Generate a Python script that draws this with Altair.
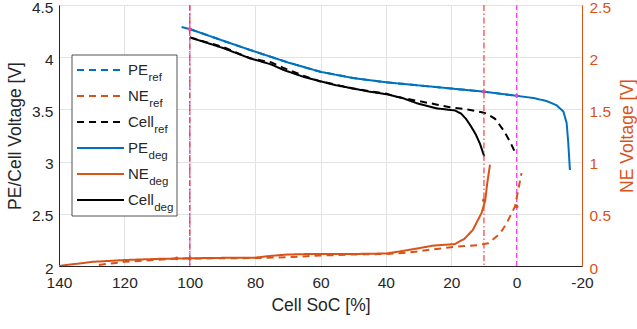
import altair as alt
import pandas as pd

# ---------------- data ----------------
pe_soc = [102.5, 100, 90, 81.6, 70, 60, 50, 40, 30, 20, 10, 5, 0, -5, -9.2, -12.2, -14.3, -15.3, -15.8, -16.3]
pe_deg = [4.29, 4.27, 4.16, 4.07, 3.95, 3.86, 3.80, 3.76, 3.73, 3.70, 3.67, 3.65, 3.63, 3.61, 3.58, 3.54, 3.48, 3.37, 3.18, 2.92]

pe_ref_soc = [100, 90, 81.6, 70, 60, 50, 40, 30, 20, 10, 5, 0]
pe_ref = [4.27, 4.16, 4.07, 3.95, 3.86, 3.80, 3.76, 3.73, 3.70, 3.67, 3.65, 3.63]

cell_deg_soc = [100, 90, 81.6, 75, 71.5, 65, 60.2, 55, 50, 45, 39.8, 35, 30.6, 24.5, 18.9, 17, 15.5, 14, 12.5, 11.2, 9.9]
cell_deg = [4.19, 4.09, 3.99, 3.93, 3.88, 3.81, 3.77, 3.73, 3.70, 3.67, 3.645, 3.61, 3.56, 3.51, 3.49, 3.46, 3.41, 3.34, 3.26, 3.17, 3.05]

cell_ref_soc = [100, 90, 81.6, 75, 71.5, 65, 60.2, 50, 39.8, 36.7, 30, 25, 20.4, 15, 10.3, 9.2, 6.6, 4.0, 2.0, 0.5]
cell_ref = [4.19, 4.10, 3.99, 3.95, 3.90, 3.82, 3.77, 3.70, 3.65, 3.62, 3.58, 3.55, 3.52, 3.50, 3.47, 3.46, 3.41, 3.30, 3.19, 3.09]

ne_deg_soc = [140, 137.6, 129.6, 120, 110, 100, 90, 80, 75.5, 70, 63.2, 50, 39.8, 35.7, 30, 25.6, 18.9, 16, 13.4, 10.7, 9.6, 9, 8.15]
ne_deg = [0.0, 0.01, 0.04, 0.057, 0.068, 0.074, 0.078, 0.08, 0.096, 0.11, 0.115, 0.115, 0.12, 0.14, 0.17, 0.195, 0.21, 0.26, 0.345, 0.51, 0.63, 0.79, 0.97]

ne_ref_soc = [127.8, 120, 110, 104, 100, 90, 80, 70, 60, 50, 40, 36.7, 30, 25.6, 18.3, 12, 8.7, 5.1, 3.05, 0.5, -1.5]
ne_ref = [0.01, 0.04, 0.06, 0.07, 0.072, 0.074, 0.076, 0.085, 0.10, 0.11, 0.115, 0.12, 0.14, 0.16, 0.185, 0.20, 0.217, 0.31, 0.41, 0.57, 0.89]

left_dot_soc = [100, 10, 0]
left_dot_v = [4.27, 3.67, 3.63]
right_dot_soc = [104, 100, 10, 0]
right_dot_v = [0.072, 0.074, 0.63, 0.57]

red_lines = [100, 10]
magenta_lines = [100, 0]

x_ticks = [140, 120, 100, 80, 60, 40, 20, 0, -20]
left_ticks = [2, 2.5, 3, 3.5, 4, 4.5]
right_ticks = [0, 0.5, 1, 1.5, 2, 2.5]

legend_main = ["PE", "NE", "Cell", "PE", "NE", "Cell"]
legend_sub = ["ref", "ref", "ref", "deg", "deg", "deg"]

# ---------------- style ----------------
FONT = "Liberation Sans"
AX = "#262626"
GRID = "#e3e3e3"
BLUE = "#0072BD"
ORANGE = "#D95319"
BLACK = "#000000"
RED = "#FF3B3B"
MAGENTA = "#FF40FF"
DASH = [7, 5]
DASHDOT = [6, 2.5, 1.5, 2.5]
W, H = 523, 261
LBL = 15.5
TTL = 17.5

x_enc = alt.X(
    "soc:Q",
    scale=alt.Scale(domain=[-20, 140], reverse=True, nice=False, zero=False),
    axis=alt.Axis(values=x_ticks, labelExpr="'' + datum.value", title="Cell SoC [%]",
                  grid=True, gridColor=GRID, ticks=False, tickSize=0, domainColor=AX,
                  labelColor=AX, titleColor=AX, labelFontSize=LBL, titleFontSize=TTL,
                  labelPadding=9, titlePadding=6, labelFont=FONT, titleFont=FONT,
                  titleFontWeight="normal", labelFlush=False),
)

y_left = alt.Y(
    "v:Q",
    scale=alt.Scale(domain=[2, 4.5], nice=False, zero=False),
    axis=alt.Axis(orient="left", values=left_ticks, format="~g", title="PE/Cell Voltage [V]",
                  grid=True, gridColor=GRID, ticks=False, tickSize=0, domainColor=AX,
                  labelColor=AX, titleColor=AX, labelFontSize=LBL, titleFontSize=TTL,
                  labelPadding=6, titlePadding=7, labelFont=FONT, titleFont=FONT,
                  titleFontWeight="normal", labelFlush=False, labelOffset=2),
)

y_right = alt.Y(
    "v:Q",
    scale=alt.Scale(domain=[0, 2.5], nice=False, zero=False),
    axis=alt.Axis(orient="right", values=right_ticks, format="~g", title="NE Voltage [V]",
                  grid=False, ticks=False, tickSize=0, domainColor=ORANGE,
                  labelColor=ORANGE, titleColor=ORANGE, labelFontSize=LBL, titleFontSize=TTL,
                  labelPadding=7, titlePadding=8, labelFont=FONT, titleFont=FONT,
                  titleFontWeight="normal", titleAngle=270, titleBaseline="top",
                  labelFlush=False, labelOffset=2),
)


def series(xs, ys):
    return pd.DataFrame({"soc": xs, "v": ys, "i": list(range(len(xs)))})


def line(xs, ys, color, dash, y_enc):
    return alt.Chart(series(xs, ys)).mark_line(
        color=color, strokeWidth=2, strokeDash=dash, clip=True
    ).encode(x=x_enc, y=y_enc, order="i:Q")


left_layers = [
    line(pe_ref_soc, pe_ref, BLUE, DASH, y_left),
    line(cell_ref_soc, cell_ref, BLACK, DASH, y_left),
    line(pe_soc, pe_deg, BLUE, [1, 0], y_left),
    line(cell_deg_soc, cell_deg, BLACK, [1, 0], y_left),
    alt.Chart(series(left_dot_soc, left_dot_v)).mark_circle(size=14, color="#e8459a", opacity=1)
    .encode(x=x_enc, y=y_left),
    alt.Chart(pd.DataFrame({"soc": magenta_lines})).mark_rule(color=MAGENTA, strokeWidth=1.2, strokeDash=[5, 3])
    .encode(x=x_enc),
    alt.Chart(pd.DataFrame({"soc": red_lines})).mark_rule(color=RED, strokeWidth=1.2, strokeDash=DASHDOT)
    .encode(x=x_enc),
]
left_group = alt.layer(*left_layers)

right_layers = [
    line(ne_ref_soc, ne_ref, ORANGE, DASH, y_right),
    line(ne_deg_soc, ne_deg, ORANGE, [1, 0], y_right),
    alt.Chart(series(right_dot_soc, right_dot_v)).mark_circle(size=14, color=ORANGE, opacity=1)
    .encode(x=x_enc, y=y_right),
]
right_group = alt.layer(*right_layers)

# ---------------- hand-built legend with subscripts ----------------
one = pd.DataFrame({"k": [0]})
leg_layers = [
    alt.Chart(one).mark_rect(fill="white", stroke=AX, strokeWidth=0.8).encode(
        x=alt.value(13), x2=alt.value(118), y=alt.value(50), y2=alt.value(211))
]
leg_colors = [BLUE, ORANGE, BLACK, BLUE, ORANGE, BLACK]
main_w = {"PE": 20.5, "NE": 21.2, "Cell": 26.2}
for k in range(6):
    yy = 65 + 26 * k
    dash = DASH if legend_sub[k] == "ref" else [1, 0]
    leg_layers.append(
        alt.Chart(one).mark_rule(color=leg_colors[k], strokeWidth=2, strokeDash=dash).encode(
            x=alt.value(18), x2=alt.value(65), y=alt.value(yy)))
    leg_layers.append(
        alt.Chart(one).mark_text(align="left", baseline="alphabetic", font=FONT, fontSize=15, color=AX)
        .encode(x=alt.value(69), y=alt.value(yy + 4.5), text=alt.value(legend_main[k])))
    leg_layers.append(
        alt.Chart(one).mark_text(align="left", baseline="alphabetic", font=FONT, fontSize=11.5, color=AX)
        .encode(x=alt.value(69 + main_w[legend_main[k]]), y=alt.value(yy + 10.5), text=alt.value(legend_sub[k])))

chart = alt.layer(left_group, right_group, *leg_layers).resolve_scale(y="independent").properties(
    width=W, height=H,
    padding={"left": 59, "top": 5, "right": 55, "bottom": 63},
    autosize=alt.AutoSizeParams(type="none"),
    background="white",
).configure_view(stroke=AX, strokeWidth=1)

chart.save("out.html", embed_options={"renderer": "svg", "actions": False})
